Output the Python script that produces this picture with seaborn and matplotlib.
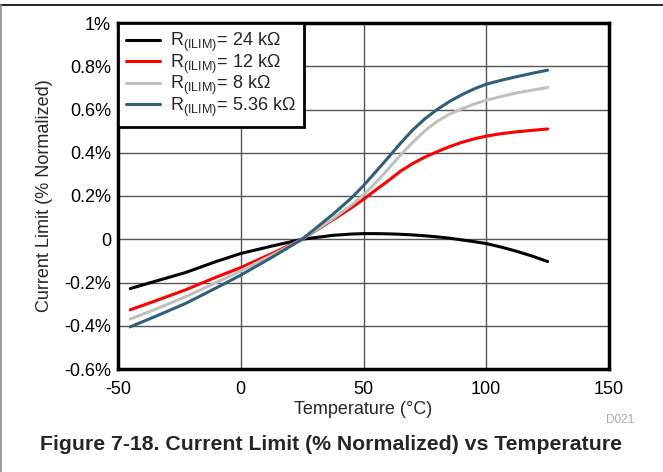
import matplotlib
matplotlib.use("Agg")
import matplotlib.pyplot as plt
import seaborn as sns
import pandas as pd
from matplotlib.lines import Line2D

sns.set_theme(style="white")
plt.rcParams['font.family'] = ['Liberation Sans', 'DejaVu Sans']
plt.rcParams['mathtext.fontset'] = 'custom'
plt.rcParams['mathtext.rm'] = 'Liberation Sans'
plt.rcParams['mathtext.it'] = 'Liberation Sans'

temps = [-45, -35, -22.5, -10, 0, 12.5, 25, 37.5, 45, 50, 55, 60, 65, 70,
         75, 80, 85, 90, 95, 100, 106, 112.5, 119, 125]
r24k = [-0.228, -0.195, -0.154, -0.103, -0.066, -0.032, 0, 0.018, 0.024, 0.026,
        0.026, 0.025, 0.023, 0.020, 0.016, 0.011, 0.005, -0.003, -0.011, -0.020,
        -0.036, -0.056, -0.079, -0.103]
r12k = [-0.326, -0.286, -0.234, -0.175, -0.131, -0.067, 0, 0.090, 0.145, 0.185,
        0.228, 0.270, 0.314, 0.350, 0.380, 0.405, 0.428, 0.448, 0.464, 0.477,
        0.488, 0.497, 0.504, 0.510]
r8k = [-0.369, -0.325, -0.266, -0.200, -0.146, -0.075, 0, 0.095, 0.157, 0.205,
       0.262, 0.324, 0.388, 0.448, 0.502, 0.545, 0.578, 0.603, 0.625, 0.643,
       0.660, 0.677, 0.690, 0.702]
r536k = [-0.405, -0.358, -0.297, -0.225, -0.166, -0.085, 0, 0.115, 0.190, 0.248,
         0.312, 0.377, 0.443, 0.505, 0.557, 0.600, 0.637, 0.668, 0.695, 0.717,
         0.735, 0.752, 0.768, 0.782]

series_names = ["24 k\u03a9", "12 k\u03a9", "8 k\u03a9", "5.36 k\u03a9"]
series_vals = [r24k, r12k, r8k, r536k]
colors = ["#000000", "#ff0000", "#c0c0c0", "#2e6079"]

xticks = [-50, 0, 50, 100, 150]
yticks = [-0.6, -0.4, -0.2, 0, 0.2, 0.4, 0.6, 0.8, 1.0]
ytick_labels = ["-0.6%", "-0.4%", "-0.2%", "0", "0.2%", "0.4%", "0.6%", "0.8%", "1%"]

rows = []
for name, vals in zip(series_names, series_vals):
    for t, v in zip(temps, vals):
        rows.append({"Temperature": t, "Value": v, "Series": name})
df = pd.DataFrame(rows)

fig = plt.figure(figsize=(6.63, 4.72), dpi=100)
ax = fig.add_axes([118/663, 1-369/472, (609-118)/663, (369-23)/472])

sns.lineplot(data=df, x="Temperature", y="Value", hue="Series",
             palette=dict(zip(series_names, colors)), hue_order=series_names,
             linewidth=2.2, ax=ax, legend=False, sort=True)

ax.set_xlim(-50, 150)
ax.set_ylim(-0.6, 1.0)
ax.set_xticks(xticks)
ax.set_xticklabels([str(x) for x in xticks], fontsize=13)
ax.set_yticks(yticks)
ax.set_yticklabels(ytick_labels, fontsize=13)
ax.tick_params(axis='x', length=0, pad=9, colors='black')
ax.tick_params(axis='y', length=0, pad=5, colors='black')
ax.grid(True, color='#555555', linewidth=1.0)
ax.set_axisbelow(True)
for s in ax.spines.values():
    s.set_color('black')
    s.set_linewidth(2.5)

ax.set_xlabel("Temperature (\u00b0C)", fontsize=13, labelpad=2)
ax.set_ylabel("Current Limit (% Normalized)", fontsize=13, labelpad=8)

handles = [Line2D([0], [0], color=c, lw=2.2) for c in colors]
labels = [r"R$_{\mathregular{(ILIM)}}$= " + n for n in series_names]
leg = ax.legend(handles, labels, loc='upper left', fontsize=13, frameon=True,
                fancybox=False, borderaxespad=0, handlelength=1.9,
                handletextpad=0.55, labelspacing=-0.1, borderpad=0.45)
leg.get_frame().set_edgecolor('black')
leg.get_frame().set_linewidth(2.0)
leg.get_frame().set_alpha(1)

fig.text(620/663, 1-420/472, "D021", fontsize=8.5, color='#aaaaaa', ha='center', va='center')
fig.text(331/663, 1-445/472, "Figure 7-18. Current Limit (% Normalized) vs Temperature",
         fontsize=15.3, fontweight='bold', ha='center', va='center')

fig.add_artist(Line2D([0, 1], [1-5/472, 1-5/472], color='black', lw=1.2, transform=fig.transFigure))
fig.add_artist(Line2D([1/663, 1/663], [0, 1-5/472], color='#888888', lw=1.2, transform=fig.transFigure))

fig.savefig("out.png", dpi=100)
